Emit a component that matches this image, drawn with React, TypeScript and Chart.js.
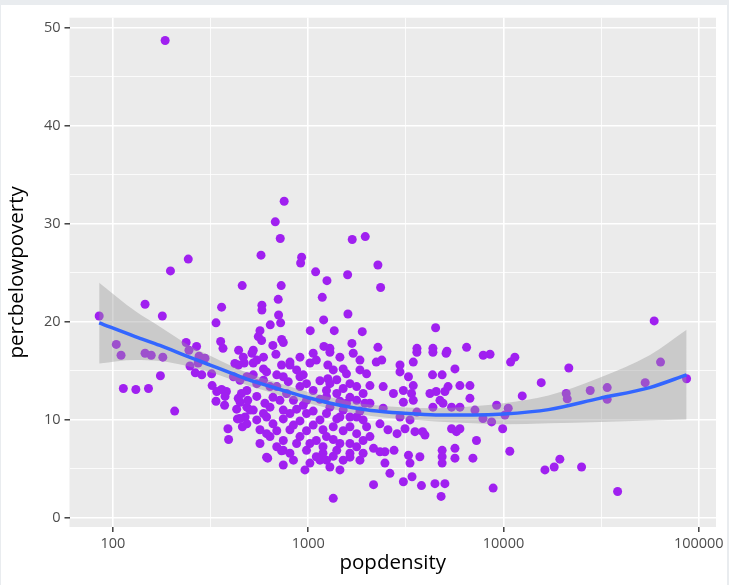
import React, { useEffect, useRef } from 'react';
import { Chart, registerables } from 'chart.js';
Chart.register(...registerables);

// ---- data ----
const popdensity = [
  185, 243, 197, 459, 146, 360, 85, 179, 337, 356, 366, 237, 268, 104, 110, 146, 157, 180, 245, 248,
  276, 296, 273, 264, 285, 320, 440, 465, 439, 175, 113, 131, 152, 207, 322, 340, 360, 381, 375, 337,
  373, 430, 448, 434, 460, 388, 391,
  753, 678, 719, 1680, 1959, 573, 925, 914, 1091, 1247, 1591, 727, 1180, 702, 579, 579, 705, 722, 639,
  1597, 1199, 1024, 1359, 1891, 566, 555, 577, 731, 745, 659, 1203, 1291, 1674,
  2274, 2348, 4490, 2274, 3604, 4350, 6470, 5130,
  683, 1060, 1291, 1700, 523, 590, 730, 806, 1020, 1260, 1510, 1840, 1990, 690, 745, 790, 1148, 1260,
  1400, 1635, 545, 637, 907, 1060, 1240, 1400, 1635, 1910, 545, 660, 775, 840, 980, 1148, 1453, 1770,
  523, 637, 745, 872, 1060, 1291, 1510, 1840, 545, 612, 745, 907, 1148, 1400, 1635, 1910, 566, 690,
  806, 980, 1190, 1510, 1770, 566, 637, 745, 872, 1100, 1343, 1635, 1910, 745, 980, 1190, 1400, 1635,
  1910, 612, 840, 1148, 1343, 1635, 1291, 1453, 962,
  2230, 2380, 2950, 2950, 3450, 3600, 4350, 5080, 3260, 4330, 4850, 5640, 7870, 2070, 2420, 2730, 3070,
  3450, 3380, 4200, 4520, 5010, 5200, 5980, 6730, 6730, 2070, 2420, 3070, 3450, 4727, 4900, 5420, 5980,
  7140, 4350, 2950, 3320, 3600, 2330, 2560, 2850, 3130, 3520, 3850, 3960, 5420, 5740, 5980, 7270, 2070,
  2160, 2330, 2470, 2750, 2470, 3260, 3730, 3320, 4850, 4850, 4850, 5640, 5640, 6970, 2620, 2160, 3070,
  3400, 3800, 4456, 5010, 4790, 8850,
  59100, 63700, 86600, 53150, 33960, 33960, 27800, 20950, 21200, 21600, 15600, 12470, 10870, 11430, 8530,
  9220, 10570, 10170, 8690, 9900, 10770, 16300, 18180, 19430, 25100, 38400,
  620, 730, 470, 485, 455, 485, 475, 485, 515, 545, 421, 806, 523, 612, 907, 414, 447, 485, 438, 490,
  503, 447, 7850,
  523, 590, 907, 1100, 1453, 1840, 872, 943, 1343, 1570, 590, 980, 690, 1291, 1510, 1770, 600, 716, 943,
  1240, 1570, 1951, 590, 806, 980, 1240, 1453, 1770, 660, 840, 1060, 1343, 1635, 1990, 612, 907, 1240,
  1453, 1770, 1020, 1190, 690, 806, 1100, 1510, 1840, 1020, 1240, 745,
  1343,
];
const percbelowpoverty = [
  48.7, 26.4, 25.2, 23.7, 21.8, 21.5, 20.6, 20.6, 19.9, 18.0, 17.3, 17.9, 17.5, 17.7, 16.6, 16.8, 16.6, 16.4, 17.1, 15.5,
  16.5, 16.3, 15.8, 14.8, 14.6, 14.7, 17.1, 16.4, 15.6, 14.5, 13.2, 13.1, 13.2, 10.9, 13.5, 12.9, 13.1, 12.9, 12.4, 11.9,
  11.5, 11.1, 11.8, 10.1, 9.3, 9.1, 8.0,
  32.3, 30.2, 28.5, 28.4, 28.7, 26.8, 26.6, 26.0, 25.1, 24.2, 24.8, 23.7, 22.5, 22.3, 21.7, 21.2, 20.7, 19.9, 19.7,
  20.8, 20.2, 19.1, 19.1, 19.0, 19.1, 18.5, 18.1, 18.2, 17.9, 17.6, 17.5, 17.3, 17.8,
  25.8, 23.5, 19.4, 17.4, 17.3, 17.3, 17.4, 17.0,
  16.7, 16.8, 16.9, 16.8, 15.8, 15.2, 15.6, 15.6, 15.8, 15.6, 15.2, 15.1, 14.7, 14.6, 14.4, 13.9, 14.0, 14.2,
  14.1, 13.7, 13.7, 13.4, 13.4, 13.0, 13.0, 12.7, 12.3, 12.7, 12.4, 12.3, 12.7, 12.0, 12.0, 12.1, 11.9, 12.0,
  11.0, 11.3, 11.0, 11.1, 10.9, 11.3, 11.0, 10.9, 10.0, 10.3, 10.1, 9.9, 10.0, 10.1, 10.3, 10.0, 9.0, 8.9,
  9.0, 8.9, 9.0, 8.9, 8.6, 7.6, 8.3, 7.9, 7.6, 7.9, 8.0, 7.6, 7.9, 6.9, 6.9, 6.6, 6.9, 6.6,
  6.6, 6.2, 5.9, 5.9, 6.3, 6.2, 5.2, 4.9, 4.9,
  15.9, 16.1, 15.6, 14.9, 15.9, 16.9, 16.9, 16.8, 14.4, 14.6, 14.6, 15.2, 16.6, 13.5, 13.4, 12.7, 13.0,
  13.5, 12.7, 12.7, 12.9, 12.9, 13.4, 13.5, 13.5, 12.2, 11.7, 11.2, 11.8, 12.0, 12.0, 11.7, 11.3, 11.3,
  11.0, 11.3, 10.3, 10.0, 10.8, 9.6, 9.0, 8.6, 9.1, 8.8, 8.8, 8.45, 9.1, 8.8, 9.1, 7.9, 8.3,
  7.1, 6.75, 6.75, 6.9, 5.6, 6.4, 6.25, 5.6, 6.9, 6.25, 5.6, 7.1, 6.1, 6.1, 4.55, 3.4, 3.7,
  4.2, 3.3, 3.5, 3.5, 2.2, 3.05,
  20.1, 15.9, 14.2, 13.8, 13.3, 12.1, 13.0, 12.7, 12.15, 15.3, 13.8, 12.45, 15.9, 16.4, 16.7,
  11.5, 11.2, 10.5, 9.8, 9.1, 6.8, 4.9, 5.2, 6.0, 5.2, 2.7,
  6.1, 6.85, 15.8, 14.4, 12.7, 11.3, 10.3, 9.6, 16.8, 16.1, 15.75, 15.9, 14.6, 14.9, 14.4, 14.4, 14.05, 13.0, 12.2, 12.0,
  11.0, 10.15, 10.15,
  17.1, 16.4, 16.4, 16.1, 16.4, 16.1, 15.1, 14.6, 15.1, 14.7, 14.05, 13.7, 13.4, 13.7, 13.2, 13.4, 11.7, 12.0, 11.5,
  12.35, 11.7, 11.7, 10.65, 10.65, 10.65, 10.65, 10.3, 10.3, 9.6, 9.47, 9.47, 9.3, 9.3, 9.3, 8.6, 8.3, 8.3,
  7.6, 7.26, 7.6, 7.26, 7.26, 6.6, 6.25, 5.9, 5.9, 5.6, 5.9, 5.4,
  2.0,
];

// loess smooth and its confidence band
const smoothX = [85, 130, 174, 250, 315, 400, 500, 620, 745, 870, 1000, 1300, 1700, 2100, 3000, 4500, 7000, 10000, 17000, 31000, 56000, 86600];
const smoothY = [19.9, 18.5, 17.6, 16.35, 15.6, 14.8, 14.07, 13.5, 13.0, 12.6, 12.26, 11.7, 11.24, 10.97, 10.7, 10.5, 10.5, 10.6, 11.05, 12.2, 13.3, 14.6];
const seLower = [15.75, 16.1, 16.0, 15.4, 14.85, 14.15, 13.45, 12.9, 12.4, 12.05, 11.7, 11.15, 10.7, 10.4, 10.1, 9.85, 9.65, 9.55, 9.65, 9.8, 9.95, 10.05];
const seUpper = [24.0, 21.1, 19.5, 17.5, 16.55, 15.55, 14.7, 14.1, 13.6, 13.2, 12.85, 12.3, 11.8, 11.55, 11.3, 11.2, 11.4, 11.7, 12.5, 14.3, 16.6, 19.2];

const xMajorTicks = [100, 1000, 10000, 100000];
const xMinorTicks = [316.2278, 3162.278, 31622.78];
const yMajorTicks = [0, 10, 20, 30, 40, 50];
const yMinorTicks = [5, 15, 25, 35, 45];

const FONT = "'Open Sans', 'Noto Sans', sans-serif";

const panelBg = {
  id: 'panelBg',
  beforeDraw(chart: any) {
    const { ctx, chartArea } = chart;
    ctx.save();
    ctx.fillStyle = '#EBEBEB';
    ctx.fillRect(chartArea.left, chartArea.top, chartArea.right - chartArea.left, chartArea.bottom - chartArea.top);
    ctx.restore();
  },
};

export default function App() {
  const ref = useRef<HTMLCanvasElement | null>(null);
  useEffect(() => {
    if (!ref.current) return;
    const isMajorX = (v: number) => xMajorTicks.includes(v);
    const isMajorY = (v: number) => yMajorTicks.includes(v);
    const chart = new Chart(ref.current, {
      type: 'scatter',
      data: {
        datasets: [
          {
            type: 'scatter',
            data: popdensity.map((x, i) => ({ x, y: percbelowpoverty[i] })),
            backgroundColor: '#A020F0',
            borderWidth: 0,
            pointRadius: 4.5,
            order: 3,
          } as any,
          {
            type: 'line',
            data: smoothX.map((x, i) => ({ x, y: seLower[i] })),
            borderWidth: 0,
            borderColor: 'rgba(0,0,0,0)',
            pointRadius: 0,
            fill: false,
            cubicInterpolationMode: 'monotone',
            order: 2,
          } as any,
          {
            type: 'line',
            data: smoothX.map((x, i) => ({ x, y: seUpper[i] })),
            borderWidth: 0,
            borderColor: 'rgba(0,0,0,0)',
            backgroundColor: 'rgba(153,153,153,0.4)',
            pointRadius: 0,
            fill: '-1',
            cubicInterpolationMode: 'monotone',
            order: 2,
          } as any,
          {
            type: 'line',
            data: smoothX.map((x, i) => ({ x, y: smoothY[i] })),
            borderColor: '#3366FF',
            borderWidth: 3.5,
            pointRadius: 0,
            fill: false,
            cubicInterpolationMode: 'monotone',
            order: 1,
          } as any,
        ],
      },
      options: {
        animation: false,
        responsive: false,
        layout: { padding: { top: 12, right: 11, left: 0, bottom: 0 } },
        plugins: { legend: { display: false }, tooltip: { enabled: false } },
        scales: {
          x: {
            type: 'logarithmic',
            min: 59.9,
            max: 122500,
            afterBuildTicks: (s: any) => {
              s.ticks = [...xMajorTicks, ...xMinorTicks].sort((a, b) => a - b).map((v) => ({ value: v }));
            },
            afterFit: (s: any) => { s.height = 58; },
            border: { display: false },
            grid: {
              color: '#FFFFFF',
              lineWidth: (c: any) => (isMajorX(c.tick?.value) ? 1.6 : 0.8),
              tickLength: 5,
              tickColor: (c: any) => (isMajorX(c.tick?.value) ? '#333333' : 'rgba(0,0,0,0)'),
              tickWidth: 1.4,
            },
            ticks: {
              autoSkip: false,
              maxRotation: 0,
              padding: 3,
              color: '#4D4D4D',
              font: { family: FONT, size: 14.5 },
              callback: (v: any) => (isMajorX(Number(v)) ? String(v) : ''),
            },
            title: {
              display: true,
              text: 'popdensity',
              color: '#000000',
              font: { family: FONT, size: 20.5 },
              padding: { top: 0, bottom: 10 },
            },
          },
          y: {
            type: 'linear',
            min: -0.92,
            max: 51.02,
            afterBuildTicks: (s: any) => {
              s.ticks = [...yMajorTicks, ...yMinorTicks].sort((a, b) => a - b).map((v) => ({ value: v }));
            },
            afterFit: (s: any) => { s.width = 68.5; },
            border: { display: false },
            grid: {
              color: '#FFFFFF',
              lineWidth: (c: any) => (isMajorY(c.tick?.value) ? 1.6 : 0.8),
              tickLength: 5,
              tickColor: (c: any) => (isMajorY(c.tick?.value) ? '#333333' : 'rgba(0,0,0,0)'),
              tickWidth: 1.4,
            },
            ticks: {
              autoSkip: false,
              padding: 4,
              color: '#4D4D4D',
              font: { family: FONT, size: 14.5 },
              callback: (v: any) => (isMajorY(Number(v)) ? String(v) : ''),
            },
            title: {
              display: true,
              text: 'percbelowpoverty',
              color: '#000000',
              font: { family: FONT, size: 20.5 },
              padding: { top: 4, bottom: 0 },
            },
          },
        },
      } as any,
      plugins: [panelBg],
    });
    return () => chart.destroy();
  }, []);

  return (
    <div style={{ position: 'fixed', left: 0, top: 0, width: 729, height: 585, background: '#E9ECEF' }}>
      <canvas
        ref={ref}
        width={726}
        height={580}
        style={{ position: 'absolute', left: 1, top: 5, width: 726, height: 580, background: '#FFFFFF' }}
      />
    </div>
  );
}
